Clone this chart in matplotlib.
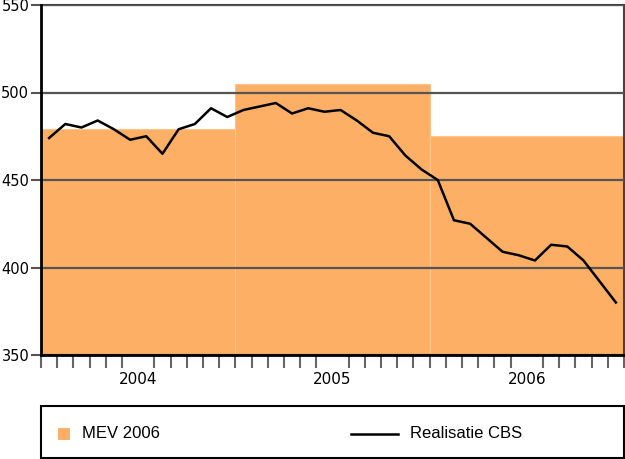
import numpy as np
import matplotlib.pyplot as plt
from matplotlib.patches import Rectangle
from matplotlib.lines import Line2D

years = ['2004', '2005', '2006']
mev_2006 = [479, 505, 475]
realisatie_cbs = [
    474, 482, 480, 484, 479, 473, 475, 465, 479, 482, 491, 486,
    490, 492, 494, 488, 491, 489, 490, 484, 477, 475, 464, 456,
    450, 427, 425, 417, 409, 407, 404, 413, 412, 404, 392, 380,
]

orange = '#fdb065'

fig = plt.figure(figsize=(6.25, 4.59), dpi=100)
ax = fig.add_axes([41 / 625, 1 - 355 / 459, 583 / 625, 350 / 459])

# MEV bars span each whole year (12 months)
x_bars = [12 * i + 6 for i in range(len(years))]
ax.bar(x_bars, mev_2006, width=12, color=orange, edgecolor='#fdc48a',
       linewidth=0.8, zorder=1)

months = np.arange(len(realisatie_cbs)) + 0.5
ax.plot(months, realisatie_cbs, color='black', lw=1.8, zorder=3)

ax.set_xlim(0, 36)
ax.set_ylim(350, 550)
ax.set_yticks([350, 400, 450, 500, 550])
ax.yaxis.grid(True, color='#555555', lw=1.6)
ax.set_axisbelow(False)

ax.set_xticks(x_bars)
ax.set_xticklabels(years)
ax.set_xticks(np.arange(0, 37), minor=True)
ax.tick_params(axis='x', which='major', length=0, pad=12, labelsize=11)
ax.tick_params(axis='x', which='minor', length=9, width=1.5, color='#666666')
ax.tick_params(axis='y', length=7, width=1.5, color='#555555', pad=1.5, labelsize=10.5)

for side in ['top', 'right']:
    ax.spines[side].set_color('#444444')
    ax.spines[side].set_linewidth(1.5)
ax.spines['left'].set_color('black')
ax.spines['left'].set_linewidth(2)
ax.spines['bottom'].set_color('black')
ax.spines['bottom'].set_linewidth(2)
ax.spines['left'].set_zorder(4)
ax.spines['bottom'].set_zorder(4)

# legend box drawn by hand
W, H = 625, 459
def fx(px):
    return px / W
def fy(py):
    return 1 - py / H

fig.add_artist(Rectangle((fx(41), fy(458)), fx(583), 52 / H, fill=False,
                         edgecolor='black', lw=1.5, transform=fig.transFigure))
fig.add_artist(Rectangle((fx(58), fy(440)), fx(12), 12 / H, facecolor=orange,
                         edgecolor='none', transform=fig.transFigure))
fig.text(fx(82), fy(434), 'MEV 2006', family='Liberation Sans', fontsize=12,
         va='center', ha='left')
fig.add_artist(Line2D([fx(351), fx(398)], [fy(434), fy(434)], color='black',
                      lw=1.8, transform=fig.transFigure))
fig.text(fx(410), fy(434), 'Realisatie CBS', family='Liberation Sans', fontsize=12,
         va='center', ha='left')

fig.savefig('out.png', dpi=100)
